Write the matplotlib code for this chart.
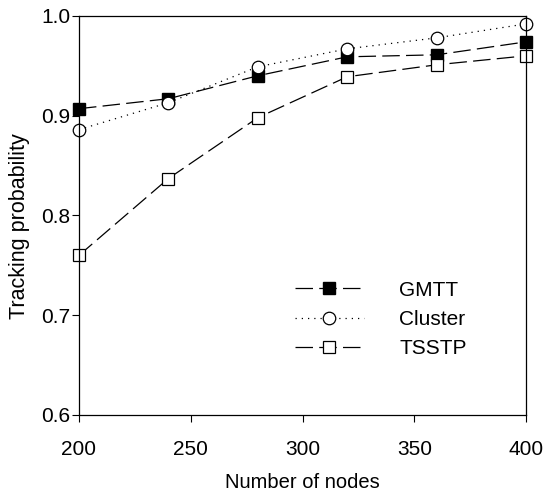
import matplotlib
matplotlib.use('Agg')
import matplotlib.pyplot as plt

plt.rcParams['font.family'] = ['Liberation Sans', 'DejaVu Sans']

# datos
nodes = [200, 240, 280, 320, 360, 400]
gmtt = [0.907, 0.917, 0.940, 0.959, 0.961, 0.974]
cluster = [0.886, 0.913, 0.949, 0.967, 0.978, 0.992]
tsstp = [0.760, 0.837, 0.898, 0.939, 0.951, 0.960]

fig = plt.figure(figsize=(5.5, 4.97), dpi=100)
ax = fig.add_axes([0.1436, 0.165, 0.8128, 0.803])

ax.plot(nodes, gmtt, color='black', lw=0.9, dashes=(14, 5), marker='s',
        ms=8.5, mfc='black', mec='black', label='GMTT', clip_on=False)
ax.plot(nodes, cluster, color='black', lw=0.9, dashes=(1, 4), marker='o',
        ms=9, mfc='white', mec='black', mew=0.9, label='Cluster', clip_on=False)
ax.plot(nodes, tsstp, color='black', lw=0.9, dashes=(14, 5), marker='s',
        ms=8.5, mfc='white', mec='black', mew=0.9, label='TSSTP', clip_on=False)

ax.set_xlim(200, 400)
ax.set_ylim(0.6, 1.0)
ax.set_xticks([200, 250, 300, 350, 400])
ax.set_yticks([0.6, 0.7, 0.8, 0.9, 1.0])
ax.tick_params(direction='out', length=5, labelsize=15)
ax.tick_params(axis='y', pad=1)
ax.tick_params(axis='x', pad=13)
ax.set_xlabel('Number of nodes', fontsize=14.5, labelpad=10)
ax.set_ylabel('Tracking probability', fontsize=15.5, labelpad=8)
ax.yaxis.label.set_y(0.474)
for s in ax.spines.values():
    s.set_linewidth(0.9)

ax.legend(loc='upper left', bbox_to_anchor=(0.483, 0.337), frameon=False,
          fontsize=15, handlelength=3.3, handletextpad=1.7, labelspacing=0.5,
          borderpad=0, borderaxespad=0)

fig.savefig('out.png', dpi=100)
